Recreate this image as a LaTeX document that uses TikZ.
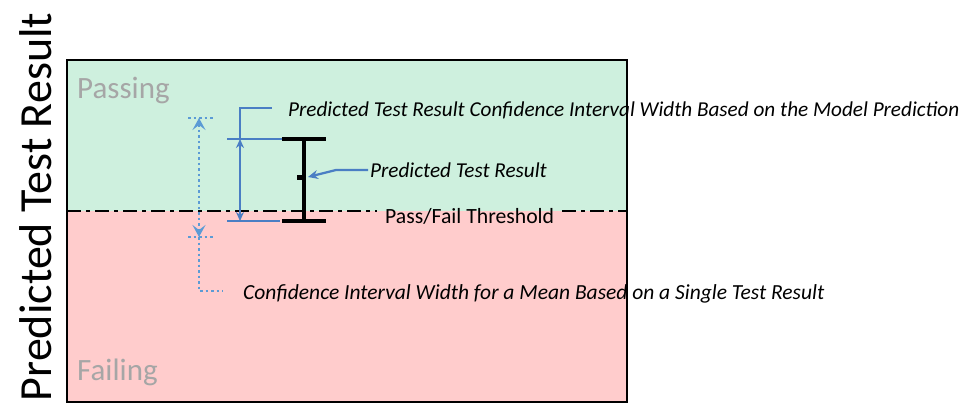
\documentclass[tikz,border=0pt]{standalone}
\usepackage{fontspec}
\setmainfont{Carlito}
\usetikzlibrary{arrows.meta, positioning}

\definecolor{passgreen}{RGB}{206,240,222}
\definecolor{failpink}{RGB}{255,204,204}
\definecolor{ciblue}{RGB}{74,126,196}
\definecolor{dotblue}{RGB}{91,155,213}
\definecolor{zonegray}{RGB}{166,166,166}

\begin{document}
\begin{tikzpicture}[x=1pt, y=-1pt,
        zone/.style = {font=\fontsize{31}{31}\selectfont, text=zonegray, anchor=west, inner sep=0pt},
        note/.style = {font=\fontsize{21.2}{21.2}\selectfont\itshape, anchor=west, inner sep=0pt},
        ciline/.style = {ciblue, line width=2.2pt},
        cidot/.style = {dotblue, line width=1.8pt, dash pattern=on 2.5pt off 3pt},
        ibeam/.style = {black, line width=3.4pt},
        threshold/.style = {black, line width=2.6pt, dash pattern=on 14pt off 5pt on 4pt off 5pt},
        citip/.tip = {Stealth[length=9pt, width=8pt]},
        sttip/.tip = {Stealth[length=12pt, width=13pt, inset=5pt]},
    ]
    \useasboundingbox (0,0) rectangle (964,410);
    %
    \coordinate (nw) at (67,60);
    \coordinate (se) at (627,402);
    \coordinate (thrL) at (67,211);
    \coordinate (thrR) at (627,211);
    \fill[passgreen] (nw) rectangle (thrR);
    \fill[failpink] (thrL) rectangle (se);
    \draw[line width=2.5pt] (nw) rectangle (se);
    %
    \node[rotate=90, font=\fontsize{46}{46}\selectfont] (axis) at (36,207) {Predicted Test Result};
    \node[zone] (passing) at (77,90) {Passing};
    \node[zone] (failing) at (77,372) {Failing};
    %
    \node[font=\fontsize{21.7}{21.7}\selectfont, anchor=west, inner xsep=8pt, inner ysep=0pt] (thr) at (377,216) {Pass/Fail Threshold};
    \draw[threshold] (thrL) -- (thr.west |- thrL);
    \draw[threshold] (thr.east |- thrR) -- (thrR);
    %
    % predicted result with its interval
    \coordinate (ibtop) at (304,139);
    \coordinate (ibbot) at (304,221);
    \coordinate (ibdot) at (301,177);
    \draw[ibeam] (ibtop) ++(-22,0) -- ++(44,0);
    \draw[ibeam] (ibbot) ++(-22,0) -- ++(44,0);
    \draw[ibeam] (ibtop) -- (ibbot);
    \fill (ibdot) ++(-4,-2.5) rectangle ++(6,5);
    %
    % model prediction interval
    \coordinate (citop) at (240,139);
    \coordinate (cibot) at (240,221);
    \draw[ciblue, line width=2.8pt] (227,139) -- (282,139);
    \draw[ciblue, line width=2.4pt] (227,221) -- (280,221);
    \draw[ciline, citip-citip] (citop) -- (cibot);
    \node[note] (cinote) at (288,110) {Predicted Test Result Confidence Interval Width Based on the Model Prediction};
    \draw[ciline] (citop) -- (240,108) -- (272,108);
    %
    \node[note, inner xsep=2pt] (prednote) at (368,170) {Predicted Test Result};
    \draw[ciline, -{Stealth[length=10pt, width=9pt]}] (prednote.west) -- ++(-32,0) -- (308,177);
    %
    % single test result interval
    \coordinate (sttop) at (199,118);
    \coordinate (stbot) at (199,237);
    \draw[cidot] (188,118) -- (214,118);
    \draw[cidot] (188,237) -- (214,237);
    \draw[cidot, sttip-sttip] (sttop) -- (stbot);
    \node[note, font=\fontsize{21.5}{21.5}\selectfont\itshape] (stnote) at (243,294) {Confidence Interval Width for a Mean Based on a Single Test Result};
    \draw[cidot] (stbot) -- (199,291) -- (223,291);
    %
\end{tikzpicture}
\end{document}
